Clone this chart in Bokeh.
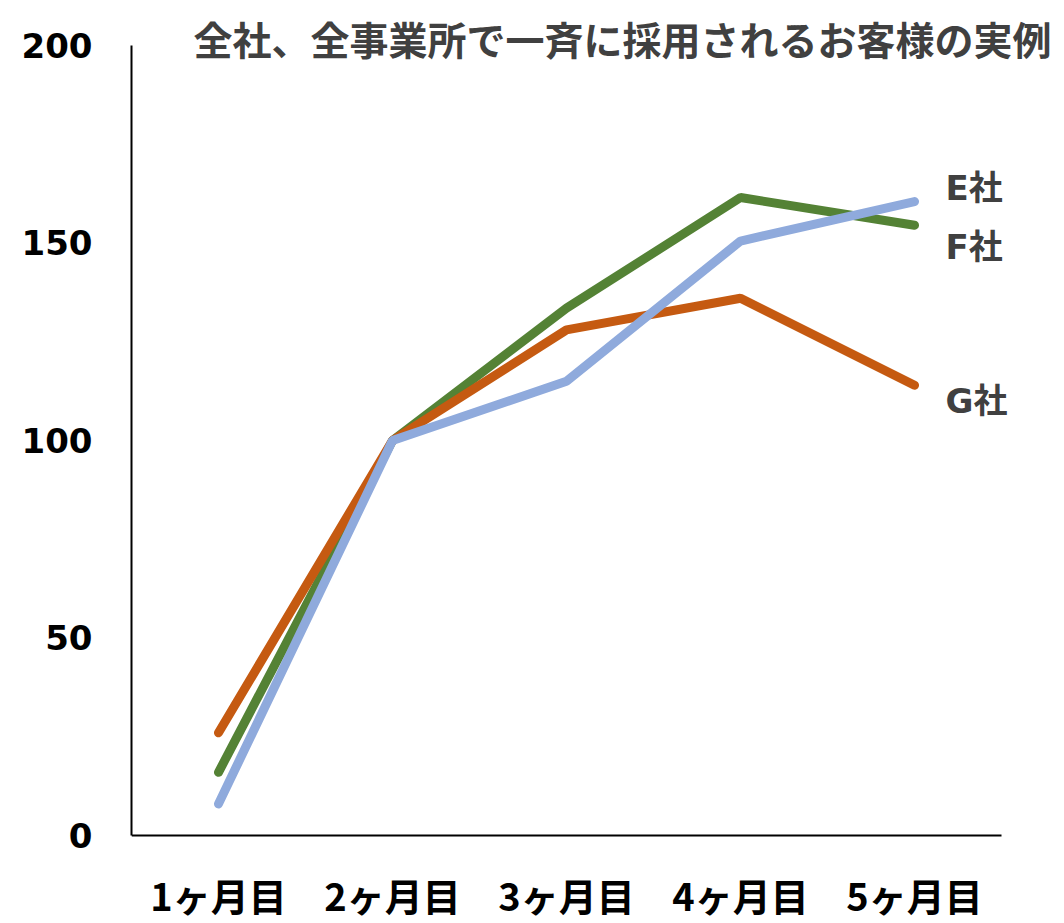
from bokeh.plotting import figure
from bokeh.models import Range1d, FixedTicker
from bokeh.core.properties import value
from bokeh.embed import file_html
from bokeh.resources import INLINE

months = ["1ヶ月目", "2ヶ月目", "3ヶ月目", "4ヶ月目", "5ヶ月目"]
e_vals = [8, 100, 115, 150.5, 160.5]
f_vals = [16, 100, 133.5, 161.5, 154.5]
g_vals = [26, 100, 128, 136, 114]
series_names = ["E社", "F社", "G社"]
label_offsets = [3.5, -5.4, -3.9]
title_text = "全社、全事業所で一斉に採用されるお客様の実例"
y_ticks = [0, 50, 100, 150, 200]

xs = [i + 1 for i in range(len(months))]

W, H = 1056, 923
p = figure(width=W, height=H, x_range=Range1d(0.5, 5.816), y_range=Range1d(-22.28, 211.39),
           output_backend="svg", toolbar_location=None,
           min_border_left=131, min_border_right=0, min_border_top=0, min_border_bottom=0)
p.outline_line_color = None
p.grid.visible = False

for ax in (p.xaxis, p.yaxis):
    ax.major_tick_line_color = None
    ax.minor_tick_line_color = None
    ax.axis_line_color = "black"
    ax.axis_line_width = 2
    ax.major_label_text_color = "black"
    ax.major_label_text_font_style = "bold"

p.yaxis.ticker = FixedTicker(ticks=y_ticks)
p.yaxis.bounds = (0, 200)
p.yaxis.major_label_text_font = "DejaVu Sans"
p.yaxis.major_label_text_font_size = "34px"
p.yaxis.major_label_standoff = 33

p.xaxis.fixed_location = 0
p.xaxis.bounds = (0.5, 5.5)
p.xaxis.ticker = FixedTicker(ticks=xs)
p.xaxis.major_label_overrides = {x: m for x, m in zip(xs, months)}
p.xaxis.major_label_text_font = "Noto Sans CJK JP"
p.xaxis.major_label_text_font_size = "38px"
p.xaxis.major_label_standoff = 26

colors = {"E": "#8FAADC", "F": "#548235", "G": "#C55A11"}
p.line(xs, f_vals, line_color=colors["F"], line_width=9, line_cap="round")
p.line(xs, g_vals, line_color=colors["G"], line_width=9, line_cap="round")
p.line(xs, e_vals, line_color=colors["E"], line_width=9, line_cap="round")

last_vals = [e_vals[-1], f_vals[-1], g_vals[-1]]
p.text(x=[xs[-1] + 0.178] * 3, y=[v + o for v, o in zip(last_vals, label_offsets)],
       text=series_names, text_font=value("DejaVu Sans, Noto Sans CJK JP"),
       text_font_size="34px", text_font_style="bold", text_color="#404040",
       text_baseline="middle", text_align="left")

p.text(x=[0.856], y=[201.77], text=[title_text], text_font=value("Noto Sans CJK JP"),
       text_font_size="39px", text_font_style="bold", text_color="#404040",
       text_baseline="middle", text_align="left")

open("out.html", "w").write(file_html(p, INLINE))
